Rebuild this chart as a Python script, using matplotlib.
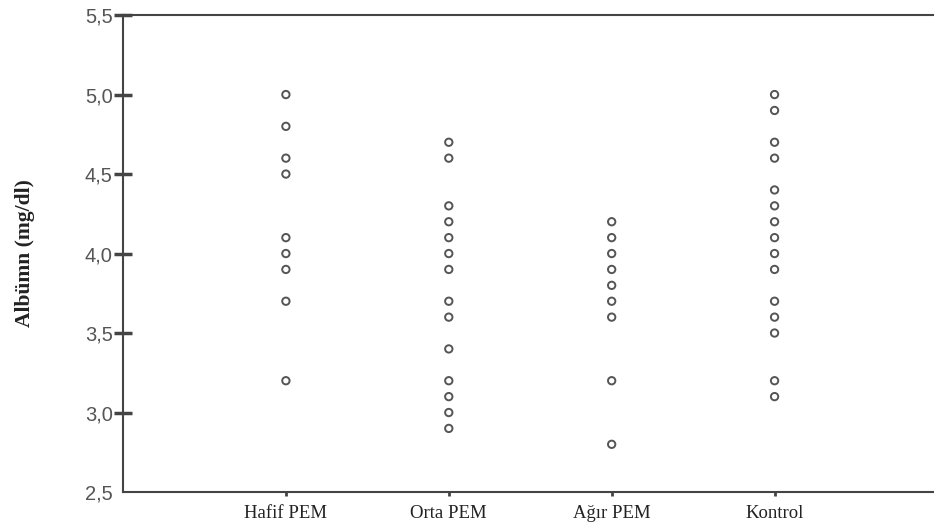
import numpy as np
import matplotlib.pyplot as plt

# Data
groups = ["Hafif PEM", "Orta PEM", "Ağır PEM", "Kontrol"]
hafif = [5.0, 4.8, 4.6, 4.5, 4.1, 4.0, 3.9, 3.7, 3.2]
orta = [4.7, 4.6, 4.3, 4.2, 4.1, 4.0, 3.9, 3.7, 3.6, 3.4, 3.2, 3.1, 3.0, 2.9]
agir = [4.2, 4.1, 4.0, 3.9, 3.8, 3.7, 3.6, 3.2, 2.8]
kontrol = [5.0, 4.9, 4.7, 4.6, 4.4, 4.3, 4.2, 4.1, 4.0, 3.9, 3.7, 3.6, 3.5, 3.2, 3.1]
yticks = [2.5, 3.0, 3.5, 4.0, 4.5, 5.0, 5.5]

series = [hafif, orta, agir, kontrol]

fig = plt.figure(figsize=(9.34, 5.27), dpi=100)
ax = fig.add_axes([0.1317, 0.0664, 0.872, 0.905])

for i, vals in enumerate(series):
    x = np.full(len(vals), i + 1)
    ax.scatter(x, vals, s=28, facecolors="none", edgecolors="#555555", linewidths=1.4, zorder=3)

ax.set_xlim(0, 5)
ax.set_ylim(2.5, 5.5)
ax.set_xticks(range(1, len(groups) + 1))
ax.set_xticklabels(groups, family="Liberation Serif", fontsize=13.5, color="#222222")
ax.set_yticks(yticks)
ax.set_yticklabels([f"{v:.1f}".replace(".", ",") for v in yticks],
                   family="Liberation Sans", fontsize=14.5, color="#555555")

ax.tick_params(axis="y", direction="inout", length=13, width=2.5, color="#444444", pad=1)
ax.tick_params(axis="x", direction="out", length=3, width=2, color="#444444", pad=6)
# no tick mark is drawn at the bottom value
ax.yaxis.get_major_ticks()[0].tick1line.set_visible(False)

for side in ["left", "bottom", "top"]:
    ax.spines[side].set_color("#444444")
    ax.spines[side].set_linewidth(1.5)
ax.spines["right"].set_visible(False)

ax.set_ylabel("Albümn (mg/dl)", family="Liberation Serif", fontsize=15.5,
              fontweight="bold", color="#222222", labelpad=36)

fig.savefig("out.png", dpi=100)
